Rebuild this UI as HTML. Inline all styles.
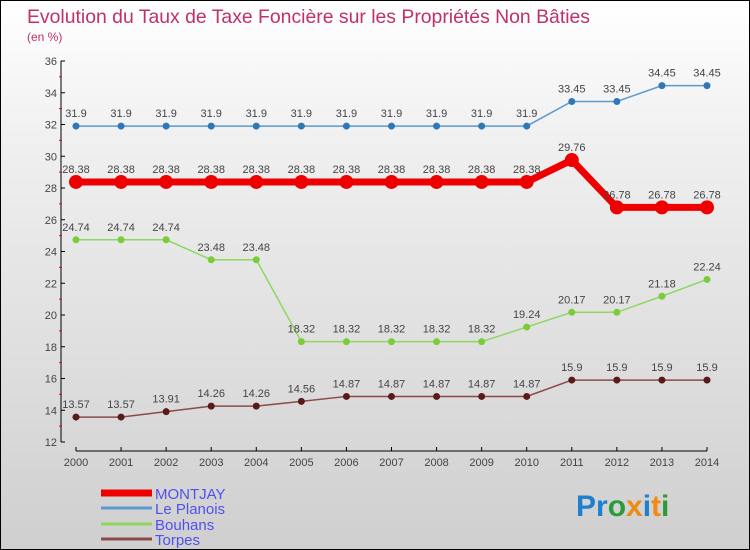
<!DOCTYPE html>
<html><head><meta charset="utf-8"><style>
body{margin:0;}
#c{position:relative;width:750px;height:550px;box-sizing:border-box;border:1px solid #000;background:linear-gradient(#ffffff,#f0f0f0 25%,#cfcfcf);overflow:hidden;font-family:"Liberation Sans",sans-serif;}
svg text{font-family:"Liberation Sans",sans-serif;}
</style></head><body>
<div id="c">
<svg id="s" width="750" height="550">
<text x="26" y="22" font-size="19.4" fill="#c0306a">Evolution du Taux de Taxe Foncière sur les Propriétés Non Bâties</text>
<text x="26" y="40" font-size="12" fill="#c0306a">(en %)</text>
<text x="575" y="515" font-size="30" font-weight="bold"><tspan fill="#1e7fd0">Pr</tspan><tspan fill="#2a9a3a">o</tspan><tspan fill="#f08a10">x</tspan><tspan fill="#1e7fd0">i</tspan><tspan fill="#f08a10">t</tspan><tspan fill="#2a9a3a">i</tspan></text>
</svg>
</div>
<script>
const years=[2000,2001,2002,2003,2004,2005,2006,2007,2008,2009,2010,2011,2012,2013,2014];
const yTicks=[12,14,16,18,20,22,24,26,28,30,32,34,36];
const montjay=[28.38,28.38,28.38,28.38,28.38,28.38,28.38,28.38,28.38,28.38,28.38,29.76,26.78,26.78,26.78];
const lePlanois=[31.9,31.9,31.9,31.9,31.9,31.9,31.9,31.9,31.9,31.9,31.9,33.45,33.45,34.45,34.45];
const bouhans=[24.74,24.74,24.74,23.48,23.48,18.32,18.32,18.32,18.32,18.32,19.24,20.17,20.17,21.18,22.24];
const torpes=[13.57,13.57,13.91,14.26,14.26,14.56,14.87,14.87,14.87,14.87,14.87,15.9,15.9,15.9,15.9];
const series=[
 {name:'MONTJAY',vals:montjay,line:'#ee0000',w:7,r:7,pt:'#ee0000',key:'montjay'},
 {name:'Le Planois',vals:lePlanois,line:'#5a9ad0',w:1.5,r:3.5,pt:'#2f78b8',key:'le-planois'},
 {name:'Bouhans',vals:bouhans,line:'#8ed860',w:1.5,r:3.5,pt:'#7acc3a',key:'bouhans'},
 {name:'Torpes',vals:torpes,line:'#8a4a4a',w:1.5,r:3.5,pt:'#5a1a1a',key:'torpes'}];
const NS='http://www.w3.org/2000/svg',s=document.getElementById('s');
const X=i=>75+i*(706-75)/(years.length-1);
const Y=v=>441-(v-12)*(441-60)/24;
function mk(t,a,p){const e=document.createElementNS(NS,t);for(const k in a)e.setAttribute(k,a[k]);(p||s).appendChild(e);return e;}
let ya=mk('line',{x1:60,y1:60,x2:60,y2:441,stroke:'#000','stroke-width':1});


let xa=mk('line',{x1:75,y1:450,x2:706,y2:450,stroke:'#000','stroke-width':1});


yTicks.forEach(v=>{
 mk('line',{x1:60,y1:Y(v),x2:64,y2:Y(v),stroke:'#000'});
 if(v<36)mk('line',{x1:58,y1:Y(v+1),x2:61,y2:Y(v+1),stroke:'#e00'});
 const t=mk('text',{x:56,y:Y(v)+4,'font-size':11,fill:'#444','text-anchor':'end'});
 t.textContent=v;
 
 
});
years.forEach((yr,i)=>{
 mk('line',{x1:X(i),y1:446,x2:X(i),y2:450,stroke:'#000'});
 const t=mk('text',{x:X(i),y:465,'font-size':11,fill:'#444','text-anchor':'middle'});
 t.textContent=yr;
 
 
});
series.forEach(sr=>{
 const g=mk('g',{});
 
 
 const pl=mk('polyline',{points:sr.vals.map((v,i)=>X(i)+','+Y(v)).join(' '),fill:'none',stroke:sr.line,'stroke-width':sr.w},g);
 
 
 sr.vals.forEach((v,i)=>{
  const c=mk('circle',{cx:X(i),cy:Y(v),r:sr.r,fill:sr.pt},g);
  
  
  const t=mk('text',{x:X(i),y:Y(v)-9,'font-size':11,fill:'#444','text-anchor':'middle'},g);
  t.textContent=v;
  
  
 });
});
const ly=[492,507,523,538];
series.forEach((sr,k)=>{
 const l=mk('rect',{x:100,y:ly[k]-(k==0?3.5:1.5),width:51,height:k==0?7:3,fill:k==0?'#ee0000':sr.line});
 
 
 const t=mk('text',{x:154,y:ly[k]+6,'font-size':15,fill:'#5050ee'});
 t.textContent=sr.name;
 
 
});
</script>
</body></html>
